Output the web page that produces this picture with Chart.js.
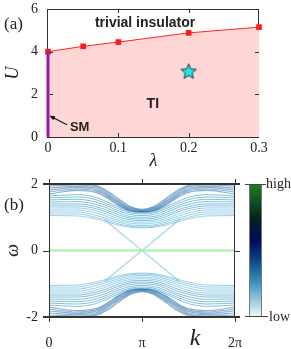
<!DOCTYPE html>
<html><head><meta charset="utf-8">
<script src="https://cdn.jsdelivr.net/npm/chart.js@4.4.0/dist/chart.umd.min.js"></script>
<style>
html,body{margin:0;padding:0;background:#fff;width:291px;height:349px;overflow:hidden}
#w1{position:absolute;left:0;top:0;width:291px;height:175px}
#w2{position:absolute;left:0;top:175px;width:291px;height:174px}
</style></head><body>
<div id="w1"><canvas id="c1"></canvas></div>
<div id="w2"><canvas id="c2"></canvas></div>
<script>
// ---------- panel (a) data ----------
const lambdaVals = [0, 0.05, 0.1, 0.2, 0.3];
const ucVals     = [4.0, 4.25, 4.45, 4.88, 5.15];
const smLambda   = [0, 0];
const smU        = [0, 4];
const starLambda = [0.2];
const starU      = [3.08];
const aXTicks  = [0, 0.1, 0.2, 0.3];
const aXLabels = ['0', '0.1', '0.2', '0.3'];
const aYTicks  = [0, 2, 4, 6];
const aYLabels = ['0', '2', '4', '6'];

// ---------- panel (b) data (k in units of pi) ----------
const kGrid = [0, 0.3, 0.5, 0.625, 0.75, 0.875, 1, 1.125, 1.25, 1.375, 1.5, 1.7, 2];
const upperTop = [
  [2.00,2.01,1.96,1.80,1.55,1.32,1.24,1.32,1.55,1.80,1.96,2.01,2.00],
  [1.94,1.97,1.92,1.75,1.50,1.29,1.22,1.29,1.50,1.75,1.92,1.97,1.94],
  [1.88,1.93,1.88,1.70,1.46,1.26,1.20,1.26,1.46,1.70,1.88,1.93,1.88],
  [1.82,1.89,1.83,1.66,1.42,1.23,1.18,1.23,1.42,1.66,1.83,1.89,1.82],
  [1.76,1.85,1.79,1.62,1.38,1.21,1.17,1.21,1.38,1.62,1.79,1.85,1.76],
  [1.70,1.81,1.75,1.58,1.35,1.19,1.16,1.19,1.35,1.58,1.75,1.81,1.70]
];
const upperMid = [
  [1.64,1.68,1.60,1.46,1.30,1.17,1.14,1.17,1.30,1.46,1.60,1.68,1.64],
  [1.58,1.61,1.53,1.40,1.25,1.13,1.10,1.13,1.25,1.40,1.53,1.61,1.58],
  [1.52,1.54,1.46,1.34,1.19,1.08,1.05,1.08,1.19,1.34,1.46,1.54,1.52],
  [1.46,1.47,1.39,1.28,1.13,1.02,1.00,1.02,1.13,1.28,1.39,1.47,1.46],
  [1.40,1.40,1.32,1.21,1.07,0.97,0.95,0.97,1.07,1.21,1.32,1.40,1.40],
  [1.34,1.34,1.26,1.15,1.01,0.92,0.90,0.92,1.01,1.15,1.26,1.34,1.34]
];
const upperLow = [
  [1.28,1.28,1.20,1.08,0.95,0.87,0.85,0.87,0.95,1.08,1.20,1.28,1.28],
  [1.22,1.22,1.13,1.02,0.90,0.82,0.80,0.82,0.90,1.02,1.13,1.22,1.22],
  [1.16,1.16,1.06,0.96,0.85,0.77,0.75,0.77,0.85,0.96,1.06,1.16,1.16],
  [1.10,1.10,1.00,0.91,0.80,0.73,0.71,0.73,0.80,0.91,1.00,1.10,1.10],
  [1.05,1.04,0.95,0.86,0.76,0.70,0.68,0.70,0.76,0.86,0.95,1.04,1.05]
];
const lowerTop = [
  [-2.00,-2.01,-1.96,-1.80,-1.55,-1.32,-1.24,-1.32,-1.55,-1.80,-1.96,-2.01,-2.00],
  [-1.94,-1.97,-1.92,-1.75,-1.50,-1.29,-1.22,-1.29,-1.50,-1.75,-1.92,-1.97,-1.94],
  [-1.88,-1.93,-1.88,-1.70,-1.46,-1.26,-1.20,-1.26,-1.46,-1.70,-1.88,-1.93,-1.88],
  [-1.82,-1.89,-1.83,-1.66,-1.42,-1.23,-1.18,-1.23,-1.42,-1.66,-1.83,-1.89,-1.82],
  [-1.76,-1.85,-1.79,-1.62,-1.38,-1.21,-1.17,-1.21,-1.38,-1.62,-1.79,-1.85,-1.76],
  [-1.70,-1.81,-1.75,-1.58,-1.35,-1.19,-1.16,-1.19,-1.35,-1.58,-1.75,-1.81,-1.70]
];
const lowerMid = [
  [-1.64,-1.68,-1.60,-1.46,-1.30,-1.17,-1.14,-1.17,-1.30,-1.46,-1.60,-1.68,-1.64],
  [-1.58,-1.61,-1.53,-1.40,-1.25,-1.13,-1.10,-1.13,-1.25,-1.40,-1.53,-1.61,-1.58],
  [-1.52,-1.54,-1.46,-1.34,-1.19,-1.08,-1.05,-1.08,-1.19,-1.34,-1.46,-1.54,-1.52],
  [-1.46,-1.47,-1.39,-1.28,-1.13,-1.02,-1.00,-1.02,-1.13,-1.28,-1.39,-1.47,-1.46],
  [-1.40,-1.40,-1.32,-1.21,-1.07,-0.97,-0.95,-0.97,-1.07,-1.21,-1.32,-1.40,-1.40],
  [-1.34,-1.34,-1.26,-1.15,-1.01,-0.92,-0.90,-0.92,-1.01,-1.15,-1.26,-1.34,-1.34]
];
const lowerLow = [
  [-1.28,-1.28,-1.20,-1.08,-0.95,-0.87,-0.85,-0.87,-0.95,-1.08,-1.20,-1.28,-1.28],
  [-1.22,-1.22,-1.13,-1.02,-0.90,-0.82,-0.80,-0.82,-0.90,-1.02,-1.13,-1.22,-1.22],
  [-1.16,-1.16,-1.06,-0.96,-0.85,-0.77,-0.75,-0.77,-0.85,-0.96,-1.06,-1.16,-1.16],
  [-1.10,-1.10,-1.00,-0.91,-0.80,-0.73,-0.71,-0.73,-0.80,-0.91,-1.00,-1.10,-1.10],
  [-1.05,-1.04,-0.95,-0.86,-0.76,-0.70,-0.68,-0.70,-0.76,-0.86,-0.95,-1.04,-1.05]
];
const kEdge    = [0.60, 0.80, 1.00, 1.20, 1.40];
const edgeDown = [0.92, 0.46, 0.00, -0.46, -0.92];
const edgeUp   = [-0.92, -0.46, 0.00, 0.46, 0.92];
const flatK    = [0, 2];
const flatW    = [0, 0];
const bXTicks  = [0, 1, 2];
const bXLabels = ['0', 'π', '2π'];
const bYTicks  = [-2, 0, 2];
const bYLabels = ['-2', '0', '2'];

const SERIF = '"Liberation Serif", "DejaVu Serif", serif';
const SANS  = '"Liberation Sans", Arial, sans-serif';

function pts(xs, ys) { return xs.map((x, i) => ({x: x, y: ys[i]})); }

const starImg = document.createElement('canvas');
starImg.width = 18; starImg.height = 18;
(function(){
  const c = starImg.getContext('2d');
  c.beginPath();
  for (let i = 0; i < 10; i++) {
    const r = i % 2 === 0 ? 8 : 3.6;
    const a = -Math.PI / 2 + i * Math.PI / 5;
    const px = 9 + r * Math.cos(a), py = 9.6 + r * Math.sin(a);
    if (i === 0) c.moveTo(px, py); else c.lineTo(px, py);
  }
  c.closePath();
  c.fillStyle = '#22e6e6';
  c.fill();
  c.lineWidth = 1;
  c.strokeStyle = '#1b3440';
  c.stroke();
})();

// ---------- panel (a) ----------
const plugA = {
  id: 'plugA',
  beforeDatasetsDraw(chart) {
    const {ctx, chartArea: a} = chart;
    ctx.save();
    ctx.strokeStyle = '#333';
    ctx.lineWidth = 1;
    ctx.strokeRect(a.left - 0.5, a.top + 0.5, a.right - a.left, a.bottom - a.top);
    ctx.restore();
  },
  afterDatasetsDraw(chart) {
    const {ctx, chartArea: a, scales: {x, y}} = chart;
    ctx.save();
    ctx.strokeStyle = '#333';
    ctx.lineWidth = 1;
    ctx.beginPath();
    aXTicks.forEach(v => {
      const px = Math.round(x.getPixelForValue(v)) + 0.5;
      if (v > 0 && v < 0.3) {
        ctx.moveTo(px, a.bottom); ctx.lineTo(px, a.bottom - 4);
        ctx.moveTo(px, a.top); ctx.lineTo(px, a.top + 4);
      }
    });
    aYTicks.forEach(v => {
      const py = Math.round(y.getPixelForValue(v)) + 0.5;
      if (v > 0 && v < 6) {
        ctx.moveTo(a.left + 2, py); ctx.lineTo(a.left + 5, py);
        ctx.moveTo(a.right, py); ctx.lineTo(a.right - 4, py);
      }
    });
    ctx.stroke();
    ctx.fillStyle = '#222';
    ctx.textAlign = 'center'; ctx.textBaseline = 'middle';
    ctx.font = 'bold 14px ' + SANS;
    ctx.fillText('trivial insulator', x.getPixelForValue(0.138), y.getPixelForValue(5.33));
    ctx.fillText('TI', x.getPixelForValue(0.149), y.getPixelForValue(1.56));
    ctx.font = 'bold 13px ' + SANS;
    ctx.fillText('SM', x.getPixelForValue(0.045), y.getPixelForValue(0.46));
    const x0 = x.getPixelForValue(0.027), y0 = y.getPixelForValue(0.57);
    const x1 = x.getPixelForValue(0.002), y1 = y.getPixelForValue(1.0);
    ctx.strokeStyle = '#111'; ctx.lineWidth = 1.2;
    ctx.beginPath(); ctx.moveTo(x0, y0); ctx.lineTo(x1 + 2, y1 + 1); ctx.stroke();
    const ang = Math.atan2(y1 - y0, x1 - x0);
    ctx.beginPath();
    ctx.moveTo(x1, y1);
    ctx.lineTo(x1 - 6 * Math.cos(ang - 0.4), y1 - 6 * Math.sin(ang - 0.4));
    ctx.lineTo(x1 - 6 * Math.cos(ang + 0.4), y1 - 6 * Math.sin(ang + 0.4));
    ctx.closePath(); ctx.fillStyle = '#111'; ctx.fill();
    ctx.font = '17px ' + SERIF;
    ctx.fillStyle = '#222';
    ctx.textAlign = 'left';
    ctx.fillText('(a)', 4, 25);
    ctx.restore();
  }
};

new Chart(document.getElementById('c1'), {
  type: 'line',
  data: {
    datasets: [
      {data: pts(starLambda, starU), showLine: false, pointStyle: starImg, pointRadius: 8, order: 0},
      {data: pts(smLambda, smU), borderColor: '#9a14a6', borderWidth: 3, pointRadius: 0, clip: false, order: 1},
      {data: pts(lambdaVals, ucVals), borderColor: '#ff2222', borderWidth: 1,
       backgroundColor: 'rgba(255,214,214,1)', fill: 'origin',
       pointStyle: 'rect', pointRadius: 4, pointBackgroundColor: '#ff1a1a', pointBorderColor: '#ff1a1a', pointBorderWidth: 0, clip: false, order: 2}
    ]
  },
  options: {
    responsive: true, maintainAspectRatio: false, animation: false,
    layout: {padding: {top: 6, right: 32, left: 0, bottom: 0}},
    plugins: {legend: {display: false}, tooltip: {enabled: false}},
    scales: {
      x: {type: 'linear', min: 0, max: 0.3,
        grid: {display: false, drawTicks: false}, border: {display: false},
        afterBuildTicks: s => { s.ticks = aXTicks.map(v => ({value: v})); },
        afterFit: s => { s.height = 38; s.paddingLeft = 0; s.paddingRight = 0; },
        ticks: {callback: (v, i) => aXLabels[i], font: {family: SERIF, size: 14}, color: '#222', padding: 3, maxRotation: 0},
        title: {display: true, text: 'λ', font: {family: SERIF, size: 18, style: 'italic'}, color: '#222', padding: {top: 0, bottom: 3}}
      },
      y: {type: 'linear', min: 0, max: 6,
        grid: {display: false, drawTicks: false}, border: {display: false},
        afterBuildTicks: s => { s.ticks = aYTicks.map(v => ({value: v})); },
        afterFit: s => { s.width = 48; s.paddingTop = 0; s.paddingBottom = 0; },
        ticks: {callback: (v, i) => aYLabels[i], font: {family: SERIF, size: 14}, color: '#222', padding: 10},
        title: {display: true, text: 'U', font: {family: SERIF, size: 18, style: 'italic'}, color: '#222', padding: {top: 2, bottom: 0}}
      }
    }
  },
  plugins: [plugA]
});

// ---------- panel (b) ----------
const dsB = [];
dsB.push({data: pts(flatK, flatW), borderColor: 'rgba(170,238,170,1)', borderWidth: 2, pointRadius: 0});
dsB.push({data: pts(kEdge, edgeDown), borderColor: 'rgba(100,178,215,0.5)', borderWidth: 1.5, pointRadius: 0});
dsB.push({data: pts(kEdge, edgeUp), borderColor: 'rgba(100,178,215,0.5)', borderWidth: 1.5, pointRadius: 0});
function addBand(list, color, width) {
  list.forEach(vals => {
    dsB.push({data: pts(kGrid, vals), borderColor: color, borderWidth: width, pointRadius: 0, cubicInterpolationMode: 'monotone'});
  });
}
addBand(upperLow, 'rgba(30,150,200,0.45)', 1);
addBand(lowerLow, 'rgba(30,150,200,0.45)', 1);
addBand(upperMid, 'rgba(5,130,185,0.5)', 1);
addBand(lowerMid, 'rgba(5,130,185,0.5)', 1);
addBand(upperTop, 'rgba(0,85,150,0.45)', 1.2);
addBand(lowerTop, 'rgba(0,85,150,0.45)', 1.2);

const plugB = {
  id: 'plugB',
  afterDraw(chart) {
    const {ctx, chartArea: a, scales: {x, y}} = chart;
    ctx.save();
    ctx.strokeStyle = '#333';
    ctx.lineWidth = 1;
    ctx.beginPath();
    ctx.moveTo(a.left + 0.5, a.top); ctx.lineTo(a.left + 0.5, a.bottom);
    ctx.moveTo(a.right - 0.5, a.top); ctx.lineTo(a.right - 0.5, a.bottom);
    bXTicks.forEach(v => {
      const px = Math.round(x.getPixelForValue(v)) + 0.5;
      ctx.moveTo(px, a.bottom); ctx.lineTo(px, a.bottom + 5);
      ctx.moveTo(px, a.top); ctx.lineTo(px, a.top - 5);
    });
    bYTicks.forEach(v => {
      const py = Math.round(y.getPixelForValue(v)) + 0.5;
      ctx.moveTo(a.left - 6, py); ctx.lineTo(a.left, py);
      ctx.moveTo(a.right, py); ctx.lineTo(a.right + 5, py);
    });
    ctx.stroke();
    ctx.lineWidth = 2;
    ctx.beginPath();
    ctx.moveTo(a.left - 6, a.top); ctx.lineTo(a.right + 5, a.top);
    ctx.moveTo(a.left - 6, a.bottom); ctx.lineTo(a.right + 5, a.bottom);
    ctx.stroke();
    const cbL = 249, cbR = 262;
    const g = ctx.createLinearGradient(0, a.top, 0, a.bottom);
    g.addColorStop(0.00, '#1f7d1f');
    g.addColorStop(0.12, '#0f5522');
    g.addColorStop(0.26, '#05211f');
    g.addColorStop(0.42, '#000a5a');
    g.addColorStop(0.56, '#0b3f82');
    g.addColorStop(0.70, '#2a80b0');
    g.addColorStop(0.85, '#86bfd8');
    g.addColorStop(1.00, '#f4fafc');
    ctx.fillStyle = g;
    ctx.fillRect(cbL, a.top, cbR - cbL, a.bottom - a.top);
    ctx.strokeStyle = '#777'; ctx.lineWidth = 1;
    ctx.strokeRect(cbL + 0.5, a.top + 0.5, cbR - cbL - 1, a.bottom - a.top - 1);
    ctx.strokeStyle = '#444';
    ctx.beginPath();
    ctx.moveTo(245, a.top + 0.5); ctx.lineTo(266, a.top + 0.5);
    ctx.moveTo(245, a.bottom - 0.5); ctx.lineTo(268, a.bottom - 0.5);
    ctx.stroke();
    ctx.fillStyle = '#222';
    ctx.font = '14px ' + SERIF;
    ctx.textAlign = 'left'; ctx.textBaseline = 'middle';
    ctx.fillText('high', 266, a.top);
    ctx.fillText('low', 269, a.bottom);
    ctx.font = '17px ' + SERIF;
    ctx.fillText('(b)', 4, 31);
    ctx.font = 'italic 24px ' + SERIF;
    ctx.textAlign = 'center';
    ctx.fillText('k', 195, 164);
    ctx.restore();
  }
};

new Chart(document.getElementById('c2'), {
  type: 'line',
  data: {datasets: dsB},
  options: {
    responsive: true, maintainAspectRatio: false, animation: false,
    layout: {padding: {top: 9, right: 56, left: 0, bottom: 0}},
    plugins: {legend: {display: false}, tooltip: {enabled: false}},
    scales: {
      x: {type: 'linear', min: 0, max: 2,
        grid: {display: false, drawTicks: false}, border: {display: false},
        afterBuildTicks: s => { s.ticks = bXTicks.map(v => ({value: v})); },
        afterFit: s => { s.height = 32; s.paddingLeft = 0; s.paddingRight = 0; },
        ticks: {callback: (v, i) => bXLabels[i], font: {family: SERIF, size: 14}, color: '#222', padding: 18, maxRotation: 0}
      },
      y: {type: 'linear', min: -2, max: 2,
        grid: {display: false, drawTicks: false}, border: {display: false},
        afterBuildTicks: s => { s.ticks = bYTicks.map(v => ({value: v})); },
        afterFit: s => { s.width = 49; s.paddingTop = 0; s.paddingBottom = 0; },
        ticks: {callback: (v, i) => bYLabels[i], font: {family: SERIF, size: 14}, color: '#222', padding: 11},
        title: {display: true, text: 'ω', font: {family: SERIF, size: 18, style: 'italic'}, color: '#222', padding: {top: 2, bottom: 0}}
      }
    }
  },
  plugins: [plugB]
});
</script>
</body></html>
